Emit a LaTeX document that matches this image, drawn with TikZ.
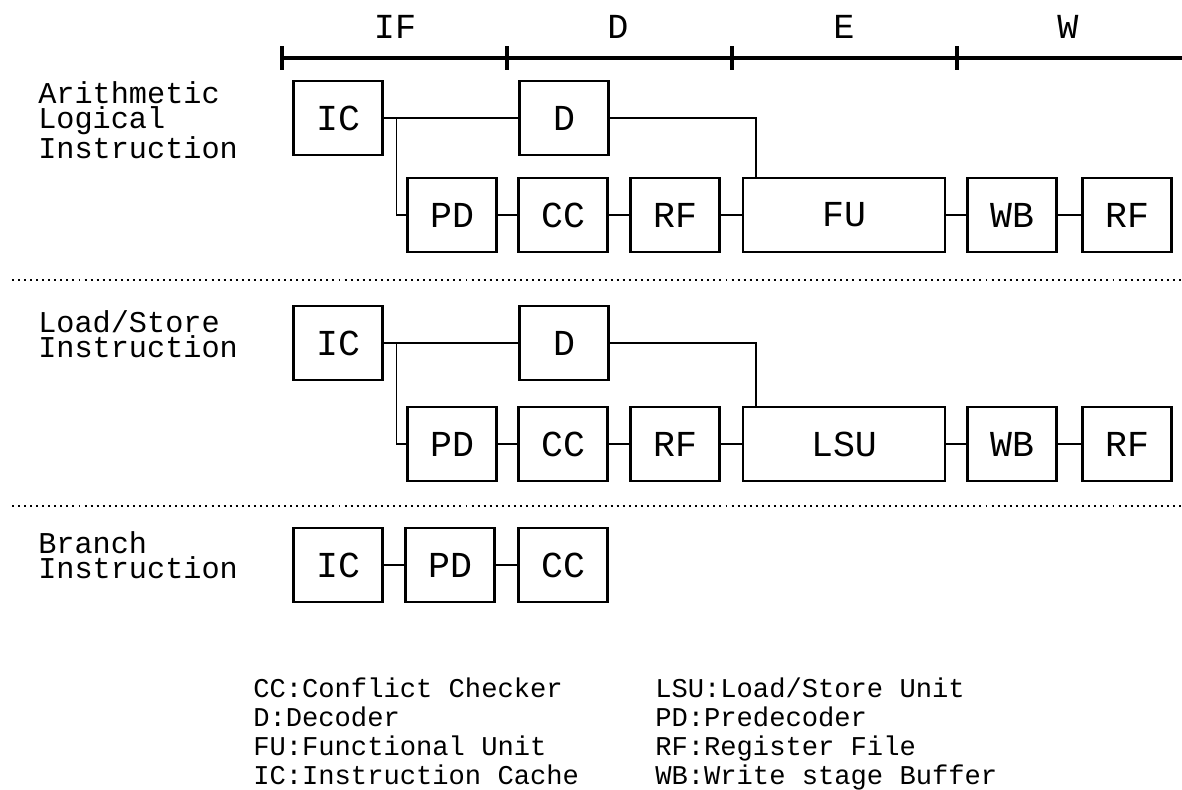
\documentclass[tikz,border=0pt]{standalone}
\usepackage{fontspec}
\setmonofont{Liberation Mono}
\usetikzlibrary{calc}

\begin{document}
\begin{tikzpicture}[
  x=0.025cm, y=-0.025cm,
  font=\ttfamily,
  block/.style={draw=black, line width=1.7pt, align=center,
    minimum width=2.225cm, minimum height=1.85cm, inner sep=0pt,
    font=\ttfamily\fontsize{26}{28}\selectfont},
  wide/.style={block, minimum width=5.05cm},
  wire/.style={line width=1.1pt},
  axis/.style={line width=2.2pt},
  sep/.style={line width=1.6pt, dash pattern=on 1.4pt off 2.9pt},
  stage/.style={inner sep=0pt, font=\ttfamily\fontsize{25}{27}\selectfont},
  lbl/.style={anchor=west, align=left, inner sep=0pt,
    font=\ttfamily\fontsize{21.5}{18}\selectfont},
  key/.style={anchor=base west, inner sep=0pt,
    font=\ttfamily\fontsize{19.3}{21}\selectfont}
]
  \useasboundingbox (0,0) rectangle (1182,789);

  % stage scale
  \draw[axis] (282,58) -- (1182,58);
  \foreach \x in {282,507,732,957}
    \draw[axis] (\x,46) -- (\x,70);
  \node[stage] (sif) at (395,27) {IF};
  \node[stage] (sd) at (618,27) {D};
  \node[stage] (se) at (844,27) {E};
  \node[stage] (sw) at (1068,27) {W};

  % arithmetic / logical
  \node[lbl] (ala) at (38,120) {Arithmetic\\Logical\\Instruction};
  \node[block] (ica) at (338,118) {IC};
  \node[block] (da) at (564,118) {D};
  \node[block] (pda) at (452,215) {PD};
  \node[block] (cca) at (563,215) {CC};
  \node[block] (rfa) at (675,215) {RF};
  \node[wide] (fua) at (844,215) {FU};
  \node[block] (wba) at (1012,215) {WB};
  \node[block] (rfwa) at (1127,215) {RF};
  \draw[wire] (ica.east) -- (da.west);
  \draw[wire] (ica.east) ++(13,0) |- (pda.west);
  \draw[wire] (da.east) -| ($(fua.north west)+(14,0)$);
  \draw[wire] (pda) -- (cca);
  \draw[wire] (cca) -- (rfa);
  \draw[wire] (rfa) -- (fua);
  \draw[wire] (fua) -- (wba);
  \draw[wire] (wba) -- (rfwa);

  \draw[sep] (12,280) -- (1182,280);

  % load / store
  \node[lbl] (lsa) at (38,334) {Load/Store\\Instruction};
  \node[block] (icb) at (338,343) {IC};
  \node[block] (db) at (564,343) {D};
  \node[block] (pdb) at (452,444) {PD};
  \node[block] (ccb) at (563,444) {CC};
  \node[block] (rfb) at (675,444) {RF};
  \node[wide] (lsub) at (844,444) {LSU};
  \node[block] (wbb) at (1012,444) {WB};
  \node[block] (rfwb) at (1127,444) {RF};
  \draw[wire] (icb.east) -- (db.west);
  \draw[wire] (icb.east) ++(13,0) |- (pdb.west);
  \draw[wire] (db.east) -| ($(lsub.north west)+(14,0)$);
  \draw[wire] (pdb) -- (ccb);
  \draw[wire] (ccb) -- (rfb);
  \draw[wire] (rfb) -- (lsub);
  \draw[wire] (lsub) -- (wbb);
  \draw[wire] (wbb) -- (rfwb);

  \draw[sep] (12,506) -- (1182,506);

  % branch
  \node[lbl] (bra) at (38,555) {Branch\\Instruction};
  \node[block] (icc) at (338,565) {IC};
  \node[block] (pdc) at (450,565) {PD};
  \node[block] (ccc) at (563,565) {CC};
  \draw[wire] (icc) -- (pdc);
  \draw[wire] (pdc) -- (ccc);

  % legend
  \node[key] (kcc) at (253,697) {CC:Conflict Checker};
  \node[key] (kd) at (253,726) {D:Decoder};
  \node[key] (kfu) at (253,755) {FU:Functional Unit};
  \node[key] (kic) at (253,784) {IC:Instruction Cache};
  \node[key] (klsu) at (655,697) {LSU:Load/Store Unit};
  \node[key] (kpd) at (655,726) {PD:Predecoder};
  \node[key] (krf) at (655,755) {RF:Register File};
  \node[key] (kwb) at (655,784) {WB:Write stage Buffer};
\end{tikzpicture}
\end{document}
